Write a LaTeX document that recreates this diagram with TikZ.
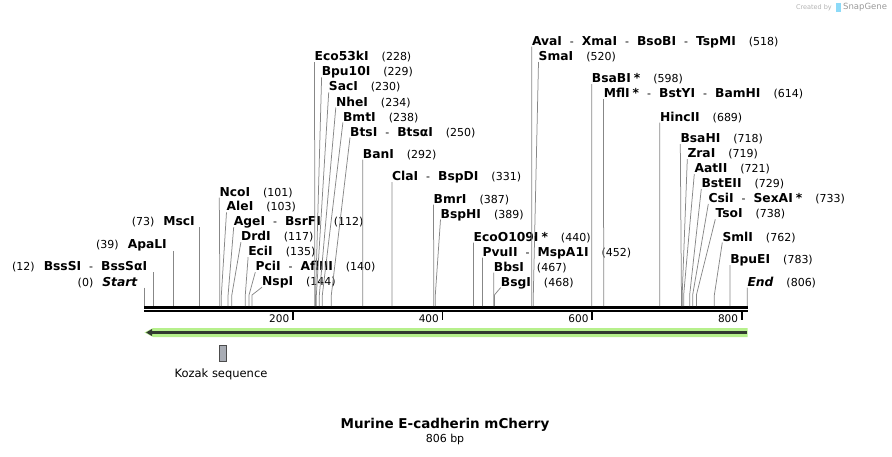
\documentclass[tikz,border=0pt]{standalone}
\usepackage{fontspec}
\setmainfont{DejaVu Sans}
\usetikzlibrary{arrows.meta}

\definecolor{featgreen}{RGB}{182,240,140}
\definecolor{featdark}{RGB}{50,58,48}
\definecolor{kozakgray}{RGB}{168,172,180}
\definecolor{leadgray}{RGB}{135,135,135}

\newcommand{\bpx}[1]{144.3+0.7481*#1}
\newcommand{\enz}[1]{{\fontsize{12.3}{14}\selectfont\bfseries #1}}
\newcommand{\enzsep}{\hspace{8pt}-\hspace{8pt}}
\newcommand{\numgap}{\hspace{13pt}}

\tikzset{
  enz/.style={anchor=base west, inner sep=0pt, font=\fontsize{11}{13}\selectfont},
  enzl/.style={anchor=base east, inner sep=0pt, font=\fontsize{11}{13}\selectfont},
  lead/.style={draw=leadgray, line width=0.75pt},
}

\begin{document}
\begin{tikzpicture}[x=1pt,y=-1pt]
        \useasboundingbox (0,0) rectangle (892,456);

        \foreach \p in {0,12,39,73,101,103,112,117,135,140,144,228,229,230,234,238,250,292,331,387,389,440,452,467,468,518,520,598,614,689,718,719,721,729,733,738,762,783,806}
            \coordinate (s\p) at (\bpx{\p},306);
        \coordinate (bend) at (0,295);

        % sequence
        \draw[line width=2.7pt] (144.3,307.4) -- (747.7,307.4);
        \draw[line width=1.8pt] (144.3,311.2) -- (747.7,311.2);
        \foreach \t in {200,400,600,800} {
            \draw[line width=1.8pt] (\bpx{\t}-1,311) -- (\bpx{\t}-1,320);
            \node[anchor=base east, inner sep=0pt, font=\fontsize{10.5}{12}\selectfont] at (\bpx{\t}-4.5,322) (t\t) {\t};
        }

        % left labels
        \node[enzl] at (137.5,286) (start) {(0)\hspace{9pt}\enz{\itshape Start}};
        \node[enzl] at (147.3,270.7) (bsssi) {(12)\hspace{9pt}\enz{BssSI}\enzsep\enz{BssSαI}};
        \node[enzl] at (167,248) (apali) {(39)\hspace{9pt}\enz{ApaLI}};
        \node[enzl] at (195,225.7) (msci) {(73)\hspace{9pt}\enz{MscI}};
        \draw[lead] (s0 |- start.south) -- (s0);
        \draw[lead] (s12 |- bsssi.south) -- (s12);
        \draw[lead] (s39 |- apali.south) -- (s39);
        \draw[lead] (s73 |- msci.south) -- (s73);

        \node[enz] at (219.3,196) (ncoi) {\enz{NcoI}\numgap(101)};
        \node[enz] at (226.5,210.8) (alei) {\enz{AleI}\numgap(103)};
        \node[enz] at (233.7,225.7) (agei) {\enz{AgeI}\enzsep\enz{BsrFI}\numgap(112)};
        \node[enz] at (240.9,240.7) (drdi) {\enz{DrdI}\numgap(117)};
        \node[enz] at (248.1,255.7) (ecii) {\enz{EciI}\numgap(135)};
        \node[enz] at (255.3,270.7) (pcii) {\enz{PciI}\enzsep\enz{AflIII}\numgap(140)};
        \node[enz] at (262,285.7) (nspi) {\enz{NspI}\numgap(144)};
        \draw[lead] ([yshift=-1.5pt]ncoi.base west) -- (s101 |- bend) -- (s101);
        \draw[lead] ([yshift=-1.5pt]alei.base west) -- (s103 |- bend) -- (s103);
        \draw[lead] ([yshift=-1.5pt]agei.base west) -- (s112 |- bend) -- (s112);
        \draw[lead] ([yshift=-1.5pt]drdi.base west) -- (s117 |- bend) -- (s117);
        \draw[lead] ([yshift=-1.5pt]ecii.base west) -- (s135 |- bend) -- (s135);
        \draw[lead] ([yshift=-1.5pt]pcii.base west) -- (s140 |- bend) -- (s140);
        \draw[lead] ([yshift=-1.5pt]nspi.base west) -- (s144 |- bend) -- (s144);

        \node[enz] at (314.5,60.7) (eco53ki) {\enz{Eco53kI}\numgap(228)};
        \node[enz] at (321.6,75.8) (bpu10i) {\enz{Bpu10I}\numgap(229)};
        \node[enz] at (328.7,90.9) (saci) {\enz{SacI}\numgap(230)};
        \node[enz] at (335.8,106) (nhei) {\enz{NheI}\numgap(234)};
        \node[enz] at (342.9,121) (bmti) {\enz{BmtI}\numgap(238)};
        \node[enz] at (350,136) (btsi) {\enz{BtsI}\enzsep\enz{BtsαI}\numgap(250)};
        \node[enz] at (362.7,158) (bani) {\enz{BanI}\numgap(292)};
        \node[enz] at (391.9,180.5) (clai) {\enz{ClaI}\enzsep\enz{BspDI}\numgap(331)};
        \node[enz] at (433.5,203) (bmri) {\enz{BmrI}\numgap(387)};
        \node[enz] at (440.5,218) (bsphi) {\enz{BspHI}\numgap(389)};
        \draw[lead] ([yshift=-1.5pt]eco53ki.base west) -- (s228 |- bend) -- (s228);
        \draw[lead] ([yshift=-1.5pt]bpu10i.base west) -- (s229 |- bend) -- (s229);
        \draw[lead] ([yshift=-1.5pt]saci.base west) -- (s230 |- bend) -- (s230);
        \draw[lead] ([yshift=-1.5pt]nhei.base west) -- (s234 |- bend) -- (s234);
        \draw[lead] ([yshift=-1.5pt]bmti.base west) -- (s238 |- bend) -- (s238);
        \draw[lead] ([yshift=-1.5pt]btsi.base west) -- (s250 |- bend) -- (s250);
        \draw[lead] ([yshift=-1.5pt]bani.base west) -- (s292 |- bend) -- (s292);
        \draw[lead] ([yshift=-1.5pt]clai.base west) -- (s331 |- bend) -- (s331);
        \draw[lead] ([yshift=-1.5pt]bmri.base west) -- (s387 |- bend) -- (s387);
        \draw[lead] ([yshift=-1.5pt]bsphi.base west) -- (s389 |- bend) -- (s389);

        \node[enz] at (473.5,241) (eco109i) {\enz{EcoO109I\hspace{3pt}*}\numgap(440)};
        \node[enz] at (482.5,256) (pvuii) {\enz{PvuII}\enzsep\enz{MspA1I}\numgap(452)};
        \node[enz] at (493.7,271) (bbsi) {\enz{BbsI}\numgap(467)};
        \node[enz] at (500.7,286) (bsgi) {\enz{BsgI}\numgap(468)};
        \draw[lead] ([yshift=-1.5pt]eco109i.base west) -- (s440 |- bend) -- (s440);
        \draw[lead] ([yshift=-1.5pt]pvuii.base west) -- (s452 |- bend) -- (s452);
        \draw[lead] ([yshift=-1.5pt]bbsi.base west) -- (s467 |- bend) -- (s467);
        \draw[lead] ([yshift=-1.5pt]bsgi.base west) -- (s468 |- bend) -- (s468);

        \node[enz] at (531.8,45) (avai) {\enz{AvaI}\enzsep\enz{XmaI}\enzsep\enz{BsoBI}\enzsep\enz{TspMI}\numgap(518)};
        \node[enz] at (538.5,60.5) (smai) {\enz{SmaI}\numgap(520)};
        \node[enz] at (591.7,82.5) (bsabi) {\enz{BsaBI\hspace{3pt}*}\numgap(598)};
        \node[enz] at (603.6,97.7) (mfli) {\enz{MflI\hspace{3pt}*}\enzsep\enz{BstYI}\enzsep\enz{BamHI}\numgap(614)};
        \node[enz] at (659.8,121) (hincii) {\enz{HincII}\numgap(689)};
        \draw[lead] ([yshift=-1.5pt]avai.base west) -- (s518 |- bend) -- (s518);
        \draw[lead] ([yshift=-1.5pt]smai.base west) -- (s520 |- bend) -- (s520);
        \draw[lead] ([yshift=-1.5pt]bsabi.base west) -- (s598 |- bend) -- (s598);
        \draw[lead] ([yshift=-1.5pt]mfli.base west) -- (s614 |- bend) -- (s614);
        \draw[lead] ([yshift=-1.5pt]hincii.base west) -- (s689 |- bend) -- (s689);

        \node[enz] at (680.3,142.5) (bsahi) {\enz{BsaHI}\numgap(718)};
        \node[enz] at (687.3,157.5) (zrai) {\enz{ZraI}\numgap(719)};
        \node[enz] at (694.3,172.5) (aatii) {\enz{AatII}\numgap(721)};
        \node[enz] at (701.3,187.5) (bsteii) {\enz{BstEII}\numgap(729)};
        \node[enz] at (708.3,202.5) (csii) {\enz{CsiI}\enzsep\enz{SexAI\hspace{3pt}*}\numgap(733)};
        \node[enz] at (715.3,217.8) (tsoi) {\enz{TsoI}\numgap(738)};
        \node[enz] at (722.3,241) (smli) {\enz{SmlI}\numgap(762)};
        \node[enz] at (730.1,263.5) (bpuei) {\enz{BpuEI}\numgap(783)};
        \node[enz] at (747.3,286) (end) {\enz{\itshape End}\numgap(806)};
        \draw[lead] ([yshift=-1.5pt]bsahi.base west) -- (s718 |- bend) -- (s718);
        \draw[lead] ([yshift=-1.5pt]zrai.base west) -- (s719 |- bend) -- (s719);
        \draw[lead] ([yshift=-1.5pt]aatii.base west) -- (s721 |- bend) -- (s721);
        \draw[lead] ([yshift=-1.5pt]bsteii.base west) -- (s729 |- bend) -- (s729);
        \draw[lead] ([yshift=-1.5pt]csii.base west) -- (s733 |- bend) -- (s733);
        \draw[lead] ([yshift=-1.5pt]tsoi.base west) -- (s738 |- bend) -- (s738);
        \draw[lead] ([yshift=-1.5pt]smli.base west) -- (s762 |- bend) -- (s762);
        \draw[lead] ([yshift=-1.5pt]bpuei.base west) -- (s783 |- bend) -- (s783);
        \draw[lead] ([yshift=-1.5pt]end.base west) -- (s806 |- bend) -- (s806);

        % feature
        \fill[featgreen] (747.7,328) -- (153,328) -- (144.5,332.5) -- (153,337) -- (747.7,337) -- cycle;
        \draw[featdark, line width=2.2pt, -{Triangle[length=6pt,width=6.5pt]}] (746.5,332.5) -- (146,332.5);
        \node[draw=black!70, fill=kozakgray, line width=0.7pt, minimum width=7pt, minimum height=16.7pt, inner sep=0pt] at (222.8,353.3) (kozak) {};
        \node[font=\fontsize{11.5}{13}\selectfont] at (221,374.5) (kozaklbl) {Kozak sequence};

        \node[font=\fontsize{13.5}{16}\selectfont\bfseries] at (445,424.5) (title) {Murine E-cadherin mCherry};
        \node[font=\fontsize{11}{13}\selectfont] at (445,439.5) (len) {806 bp};

        \node[anchor=east, inner sep=0pt, font=\fontsize{6.5}{8}\selectfont, text=black!30] at (832,7.5) (wm1) {Created by};
        \fill[cyan!45] (836,3) rectangle (840.5,12);
        \node[anchor=west, inner sep=0pt, font=\fontsize{8.5}{10}\selectfont, text=black!40] at (843,7.5) (wm2) {SnapGene};
\end{tikzpicture}
\end{document}
